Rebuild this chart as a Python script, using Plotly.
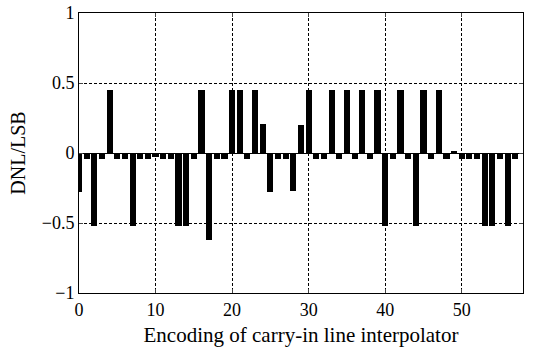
import plotly.graph_objects as go

codes = list(range(58))
dnl = [-0.28, -0.04, -0.52, -0.04, 0.45, -0.04, -0.04, -0.52, -0.04, -0.04,
       -0.03, -0.04, -0.04, -0.52, -0.52, -0.04, 0.45, -0.62, -0.04, -0.04,
       0.45, 0.45, -0.04, 0.45, 0.21, -0.28, -0.04, -0.04, -0.27, 0.20,
       0.45, -0.04, -0.04, 0.45, -0.04, 0.45, -0.04, 0.45, -0.04, 0.45,
       -0.52, -0.04, 0.45, -0.04, -0.52, 0.45, -0.04, 0.45, -0.04, 0.01,
       -0.04, -0.04, -0.04, -0.52, -0.52, -0.04, -0.52, -0.04]
x_ticks = [0, 10, 20, 30, 40, 50]
y_ticks = [-1, -0.5, 0, 0.5, 1]
y_tick_text = ["\u22121", "\u22120.5", "0", "0.5", "1"]

fig = go.Figure(go.Bar(x=codes, y=dnl, width=0.8,
                       marker=dict(color="black", line=dict(width=0))))

font = "Liberation Serif, Times New Roman, serif"
fig.update_layout(
    width=543, height=350,
    margin=dict(l=79, r=20, t=13, b=57, autoexpand=False),
    paper_bgcolor="white", plot_bgcolor="white",
    font=dict(family=font, size=18, color="black"),
    showlegend=False,
    bargap=0,
)
fig.update_xaxes(
    range=[0, 58], tickvals=x_ticks, ticks="inside", ticklen=4,
    showline=True, linecolor="black", linewidth=1, mirror="ticks",
    showgrid=True, gridcolor="black", griddash="3px,2px", gridwidth=1,
    zeroline=False, automargin=False,
    title=dict(text="Encoding of carry-in line interpolator",
               font=dict(size=21), standoff=8),
)
fig.update_yaxes(
    range=[-1, 1], tickvals=y_ticks, ticktext=y_tick_text,
    ticks="inside", ticklen=4, automargin=False,
    showline=True, linecolor="black", linewidth=1, mirror="ticks",
    showgrid=True, gridcolor="black", griddash="3px,2px", gridwidth=1,
    zeroline=True, zerolinecolor="black", zerolinewidth=1.2,
    title=dict(text="DNL/LSB", font=dict(size=20), standoff=10),
)

fig.write_html("out.html", config={"displayModeBar": False},
               post_script="document.body.style.margin='0';document.body.style.overflow='hidden';")
